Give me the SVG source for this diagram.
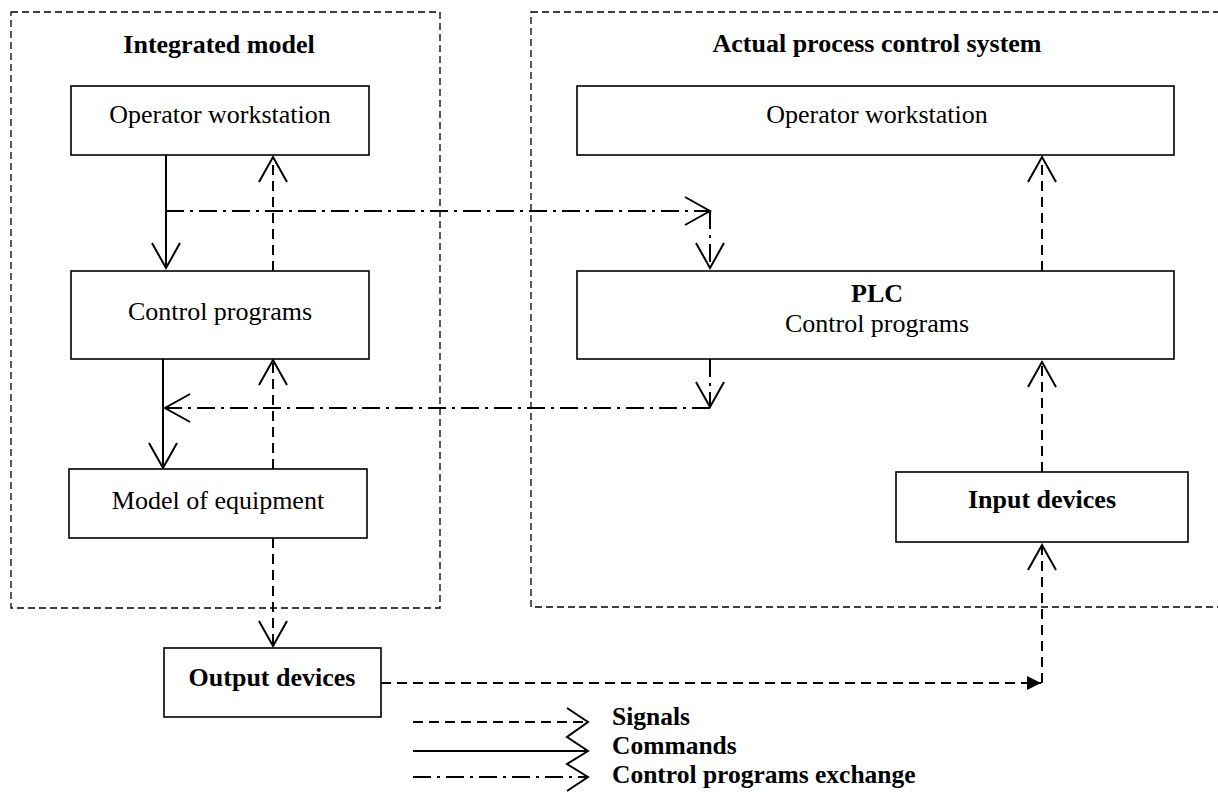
<svg xmlns="http://www.w3.org/2000/svg" width="1218" height="798" viewBox="0 0 1218 798">
<style>
.cont{fill:none;stroke:#000;stroke-width:1.3;stroke-dasharray:7 4}
.box{fill:#fff;stroke:#000;stroke-width:1.6}
.t{font-family:"Liberation Serif","Times New Roman",serif;font-size:26px;fill:#000;text-anchor:middle}
.b{font-weight:bold}
.lg{font-size:25.5px;text-anchor:start}
.sig{fill:none;stroke:#000;stroke-width:2;stroke-dasharray:10 6}
.cmd{fill:none;stroke:#000;stroke-width:2}
.cpx{fill:none;stroke:#000;stroke-width:2;stroke-dasharray:18 6 3 6}
</style>
<defs>
<marker id="chev" markerUnits="userSpaceOnUse" viewBox="-30 -20 40 40" refX="0" refY="0" markerWidth="40" markerHeight="40" orient="auto" overflow="visible">
<path d="M-25,-14 L0,0 L-25,14" fill="none" stroke="#000" stroke-width="2"/>
</marker>
<marker id="tri" markerUnits="userSpaceOnUse" viewBox="-20 -10 24 20" refX="0" refY="0" markerWidth="24" markerHeight="20" orient="auto" overflow="visible">
<path d="M-14,-7 L0,0 L-14,7 Z" fill="#000" stroke="none"/>
</marker>
</defs>

<g id="containers">
<rect class="cont" x="11" y="12" width="429" height="596"/>
<rect class="cont" x="531" y="12" width="720" height="595"/>
<text class="t b" x="219" y="53">Integrated model</text>
<text class="t b" x="877" y="52">Actual process control system</text>
</g>

<g id="connectors">
<path class="cmd" d="M166,155 V268" marker-end="url(#chev)"/>
<path class="cmd" d="M163,359 V468" marker-end="url(#chev)"/>
<path class="sig" d="M273,271 V157" marker-end="url(#chev)"/>
<path class="sig" d="M273,469 V360" marker-end="url(#chev)"/>
<path class="sig" d="M273,538 V646" marker-end="url(#chev)"/>
<path class="cpx" d="M166,211 H710" marker-end="url(#chev)"/>
<path class="cpx" d="M710,211 V268" marker-end="url(#chev)"/>
<path class="cpx" d="M710,359 V407" marker-end="url(#chev)"/>
<path class="cpx" d="M710,408 H165" marker-end="url(#chev)"/>
<path class="sig" d="M1042,271 V157" marker-end="url(#chev)"/>
<path class="sig" d="M1042,472 V362" marker-end="url(#chev)"/>
<path class="sig" d="M381,683 H1041" marker-end="url(#tri)"/>
<path class="sig" d="M1042,683 V545" marker-end="url(#chev)"/>
</g>

<g id="left-operator">
<rect class="box" x="71" y="86" width="298" height="69"/>
<text class="t" x="220" y="123">Operator workstation</text>
</g>
<g id="left-control">
<rect class="box" x="71" y="271" width="298" height="88"/>
<text class="t" x="220" y="320">Control programs</text>
</g>
<g id="model">
<rect class="box" x="69" y="469" width="298" height="69"/>
<text class="t" x="218" y="509">Model of equipment</text>
</g>
<g id="right-operator">
<rect class="box" x="577" y="86" width="597" height="69"/>
<text class="t" x="877" y="123">Operator workstation</text>
</g>
<g id="plc">
<rect class="box" x="577" y="271" width="597" height="88"/>
<text class="t b" x="877" y="302">PLC</text>
<text class="t" x="877" y="332">Control programs</text>
</g>
<g id="input">
<rect class="box" x="896" y="472" width="292" height="70"/>
<text class="t b" x="1042" y="508">Input devices</text>
</g>
<g id="output">
<rect class="box" x="164" y="648" width="217" height="69"/>
<text class="t b" x="272" y="686">Output devices</text>
</g>

<g id="legend">
<line class="sig" x1="413" y1="722" x2="586" y2="722"/>
<line class="cmd" x1="413" y1="751" x2="586" y2="751"/>
<line class="cpx" x1="413" y1="777" x2="586" y2="777"/>
<polyline points="567,708 588,722 567,737 588,751 567,764 588,777 567,791" fill="none" stroke="#000" stroke-width="2"/>
<text class="t b lg" x="612" y="725">Signals</text>
<text class="t b lg" x="612" y="754">Commands</text>
<text class="t b lg" x="612" y="783">Control programs exchange</text>
</g>
</svg>
